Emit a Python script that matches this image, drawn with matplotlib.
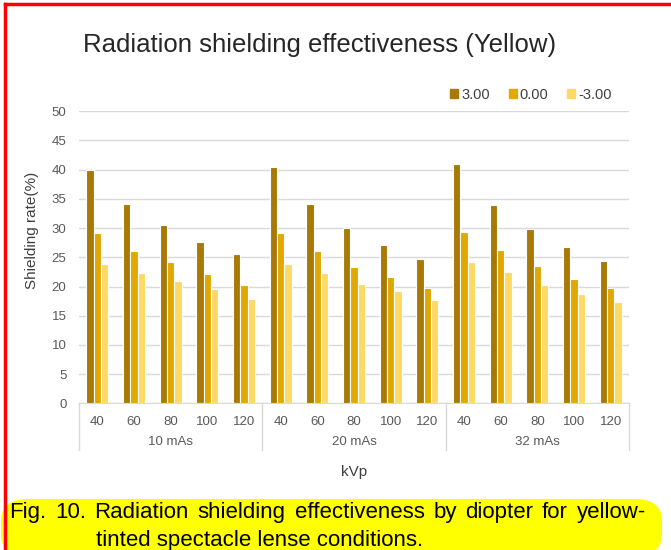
import numpy as np
import matplotlib.pyplot as plt
from matplotlib.patches import Rectangle, FancyBboxPatch
from matplotlib.lines import Line2D

plt.rcParams['font.family'] = ['Liberation Sans', 'DejaVu Sans']

# data
groups = ['10 mAs', '20 mAs', '32 mAs']
kvp = ['40', '60', '80', '100', '120']
diopters = ['3.00', '0.00', '-3.00']
colors = ['#A87A05', '#E0A800', '#FFD966']

plus3 = [40.0, 34.1, 30.5, 27.6, 25.5,
         40.4, 34.1, 30.0, 27.1, 24.7,
         41.0, 34.0, 29.8, 26.8, 24.4]
zero = [29.1, 26.0, 24.2, 22.1, 20.3,
        29.1, 26.0, 23.3, 21.7, 19.7,
        29.3, 26.2, 23.5, 21.3, 19.7]
minus3 = [23.9, 22.3, 21.0, 19.6, 17.9,
          23.9, 22.3, 20.4, 19.3, 17.7,
          24.2, 22.4, 20.3, 18.8, 17.3]
series = [plus3, zero, minus3]

W, H = 671, 550
fig = plt.figure(figsize=(W / 100, H / 100), dpi=100)

def fx(px):
    return px / W

def fy(py):
    return 1 - py / H

ax = fig.add_axes([fx(79), fy(403.3), fx(629) - fx(79), fy(111.3) - fy(403.3)])

n = len(groups) * len(kvp)
x = np.arange(n)
width = 0.2
for i, vals in enumerate(series):
    ax.bar(x + (i - 1) * width, vals, width, color=colors[i],
           edgecolor='white', linewidth=0.8, zorder=3, label=diopters[i])

ax.set_xlim(-0.5, n - 0.5)
ax.set_ylim(0, 50)
ax.set_yticks(np.arange(0, 51, 5))
ax.yaxis.grid(True, color='#D9D9D9', linewidth=1, zorder=0)
ax.tick_params(axis='y', length=0, pad=9, labelsize=9.5, labelcolor='#595959')
for s in ['left', 'right', 'top']:
    ax.spines[s].set_visible(False)
ax.spines['bottom'].set_color('#D9D9D9')

ax.set_xticks(x)
ax.set_xticklabels(kvp * len(groups))
ax.tick_params(axis='x', length=0, pad=9, labelsize=9.5, labelcolor='#595959')

# multi level category axis
tr = ax.get_xaxis_transform()
for b in np.arange(-0.5, n, len(kvp)):
    ax.plot([b, b], [0, -(450 - 403.3) / 292], color='#D9D9D9', lw=1,
            transform=tr, clip_on=False)
for g, name in enumerate(groups):
    ax.text(g * len(kvp) + 2, -(442 - 403.3) / 292, name, transform=tr,
            ha='center', va='center', fontsize=9.5, color='#595959')

fig.text(fx(354), fy(472), 'kVp', ha='center', va='center', fontsize=11, color='#404040')
fig.text(fx(32), fy(230), 'Shielding rate(%)', ha='center', va='center',
         rotation=90, fontsize=11, color='#404040')
fig.text(fx(320), fy(45), 'Radiation shielding effectiveness (Yellow)',
         ha='center', va='center', fontsize=18.5, color='#262626')

handles = [Rectangle((0, 0), 1, 1, color=c) for c in colors]
fig.legend(handles, diopters, ncol=3, loc='center right',
           bbox_to_anchor=(fx(619), fy(95)), bbox_transform=fig.transFigure,
           frameon=False, fontsize=10.5, handlelength=0.55, handleheight=0.55,
           handletextpad=0.2, columnspacing=1.3, borderpad=0, labelcolor='#404040')

# caption on yellow highlight
box = FancyBboxPatch((fx(1), fy(556)), fx(662) - fx(1), fy(499) - fy(556),
                     boxstyle='round,pad=0,rounding_size=0.04',
                     transform=fig.transFigure, facecolor='#FFFF00',
                     edgecolor='none', zorder=0)
fig.add_artist(box)

words = ['Fig.', '10.', 'Radiation', 'shielding', 'effectiveness', 'by',
         'diopter', 'for', 'yellow-']
renderer = fig.canvas.get_renderer()
txts = [fig.text(0, fy(518), w, ha='left', va='baseline', fontsize=16) for w in words]
widths = [t.get_window_extent(renderer).width for t in txts]
x0, x1 = 9, 646
gap = (x1 - x0 - sum(widths)) / (len(words) - 1)
pos = x0
for t, w in zip(txts, widths):
    t.set_x(fx(pos))
    pos += w + gap
fig.text(fx(96), fy(546), 'tinted spectacle lense conditions.', ha='left',
         va='baseline', fontsize=16)

# red frame
fig.add_artist(Line2D([fx(5), 1], [fy(4), fy(4)], color='red', lw=2.5))
fig.add_artist(Line2D([fx(5), fx(5)], [fy(4), 0], color='red', lw=2.5))

fig.savefig('out.png', dpi=100)
